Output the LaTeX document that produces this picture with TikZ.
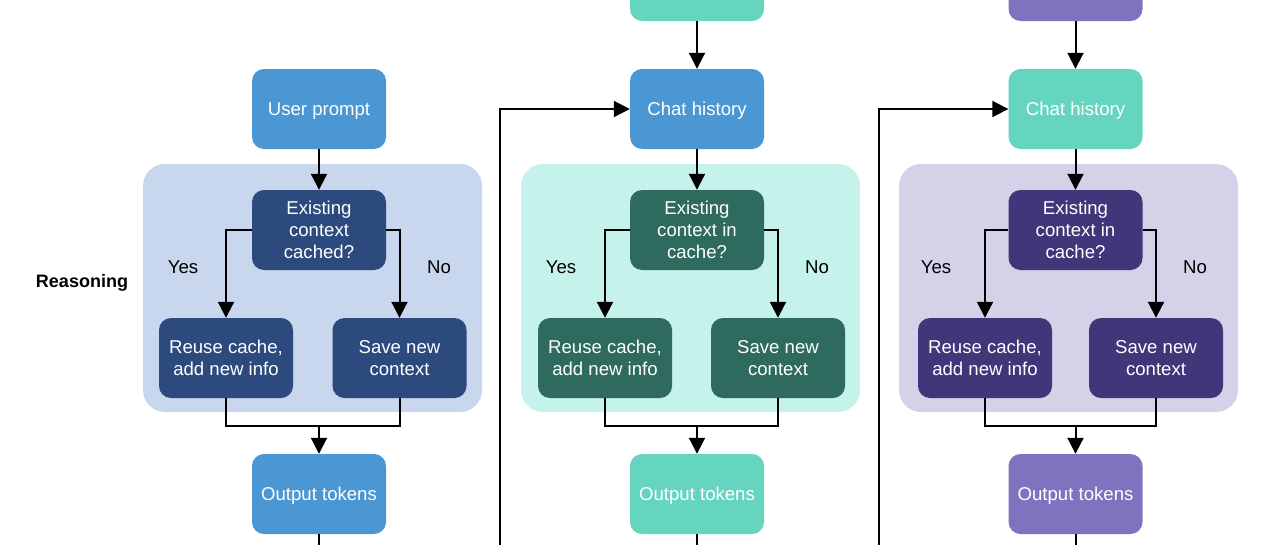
\documentclass[tikz,border=0pt]{standalone}
\usepackage{fontspec}
\setmainfont{Liberation Sans}
\usetikzlibrary{arrows.meta}
\definecolor{bluemid}{HTML}{4B97D3}
\definecolor{bluepanel}{HTML}{C8D6EE}
\definecolor{bluedark}{HTML}{2C4A7D}
\definecolor{teal}{HTML}{66D5C0}
\definecolor{tealpanel}{HTML}{C5F2EB}
\definecolor{tealdark}{HTML}{2E6A5D}
\definecolor{purp}{HTML}{8172BF}
\definecolor{purppanel}{HTML}{D5D1E8}
\definecolor{purpdark}{HTML}{42357A}
\tikzset{
  box/.style={rounded corners=12pt, minimum width=134pt, minimum height=80pt,
    align=center, text=white, inner sep=0pt, text depth=0pt,
    font=\fontsize{18.6}{22}\selectfont},
  panel/.style={rounded corners=22pt},
  conn/.style={line width=2pt, -{Triangle[width=16pt,length=16pt]}},
  plain/.style={line width=2pt},
  lbl/.style={font=\fontsize{18.6}{22}\selectfont},
}
\begin{document}
\begin{tikzpicture}[x=1pt,y=-1pt]
\clip (0,0) rectangle (1280,544);
\fill[white] (0,0) rectangle (1280,544);

% ---------- Column 1 ----------
\node[font=\bfseries\fontsize{18}{22}\selectfont] (reas) at (82,283) {Reasoning};
\node[box, fill=bluemid] (up1) at (319,109) {User prompt};
\fill[bluepanel, panel] (143,164) rectangle (482,412);
\node[box, fill=bluedark] (ex1) at (319,230) {Existing\\context\\cached?};
\node[box, fill=bluedark] (re1) at (226,358) {Reuse cache,\\add new info};
\node[box, fill=bluedark] (sv1) at (399.5,358) {Save new\\context};
\node[box, fill=bluemid] (out1) at (319,494) {Output tokens};
\node[lbl] (yes1) at (183,267) {Yes};
\node[lbl] (no1) at (439,267) {No};
\coordinate (m1) at (319,426);
\coordinate (b1) at (319,560);
\draw[conn] (up1) -- (ex1);
\draw[conn] (ex1.west) -| (re1.north);
\draw[conn] (ex1.east) -| (sv1.north);
\draw[plain] (re1.south) |- (m1) -| (sv1.south);
\draw[conn] (m1) -- (out1.north);
\draw[plain] (out1.south) -- (b1);

% ---------- Column 2 ----------
\node[box, fill=teal] (top2) at (697,-19) {};
\node[box, fill=bluemid] (ch2) at (697,109) {Chat history};
\fill[tealpanel, panel] (521,164) rectangle (860,412);
\node[box, fill=tealdark] (ex2) at (697,230) {Existing\\context in\\cache?};
\node[box, fill=tealdark] (re2) at (605,358) {Reuse cache,\\add new info};
\node[box, fill=tealdark] (sv2) at (778,358) {Save new\\context};
\node[box, fill=teal] (out2) at (697,494) {Output tokens};
\node[lbl] (yes2) at (561,267) {Yes};
\node[lbl] (no2) at (817,267) {No};
\coordinate (m2) at (697,426);
\coordinate (b2) at (697,560);
\coordinate (f2) at (500,560);
\draw[conn] (top2) -- (ch2);
\draw[conn] (ch2) -- (ex2);
\draw[conn] (ex2.west) -| (re2.north);
\draw[conn] (ex2.east) -| (sv2.north);
\draw[plain] (re2.south) |- (m2) -| (sv2.south);
\draw[conn] (m2) -- (out2.north);
\draw[plain] (out2.south) -- (b2);
\draw[conn] (f2) |- (ch2.west);

% ---------- Column 3 ----------
\node[box, fill=purp] (top3) at (1075.5,-19) {};
\node[box, fill=teal] (ch3) at (1075.5,109) {Chat history};
\fill[purppanel, panel] (899,164) rectangle (1238,412);
\node[box, fill=purpdark] (ex3) at (1075.5,230) {Existing\\context in\\cache?};
\node[box, fill=purpdark] (re3) at (985,358) {Reuse cache,\\add new info};
\node[box, fill=purpdark] (sv3) at (1156,358) {Save new\\context};
\node[box, fill=purp] (out3) at (1075.5,494) {Output tokens};
\node[lbl] (yes3) at (936,267) {Yes};
\node[lbl] (no3) at (1195,267) {No};
\coordinate (m3) at (1075.5,426);
\coordinate (b3) at (1075.5,560);
\coordinate (f3) at (879,560);
\draw[conn] (top3) -- (ch3);
\draw[conn] (ch3) -- (ex3);
\draw[conn] (ex3.west) -| (re3.north);
\draw[conn] (ex3.east) -| (sv3.north);
\draw[plain] (re3.south) |- (m3) -| (sv3.south);
\draw[conn] (m3) -- (out3.north);
\draw[plain] (out3.south) -- (b3);
\draw[conn] (f3) |- (ch3.west);
\end{tikzpicture}
\end{document}
